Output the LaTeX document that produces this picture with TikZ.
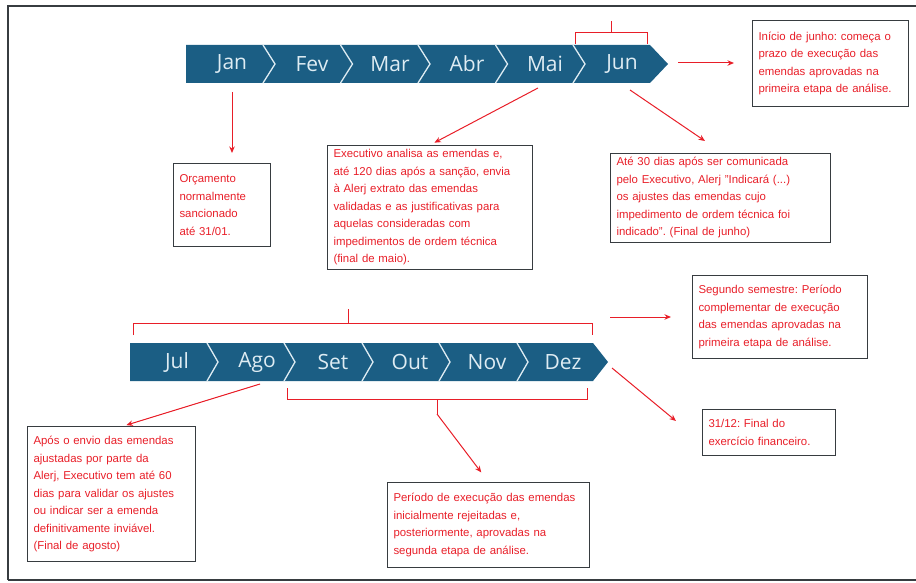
\documentclass[tikz,border=0pt]{standalone}
\usepackage{fontspec}
\setmainfont{Liberation Sans}
\newfontfamily\mesfont{Open Sans}
\usetikzlibrary{arrows.meta}
\frenchspacing
\definecolor{azul}{RGB}{27,94,132}
\definecolor{claro}{RGB}{222,236,243}
\definecolor{verm}{RGB}{232,30,40}
\definecolor{borda}{RGB}{55,60,64}
\tikzset{
  mes/.style={text=claro,font=\mesfont\fontsize{21}{21}\selectfont,inner sep=0pt},
  caixa/.style 2 args={draw=borda,line width=1pt,text=verm,align=left,anchor=north west,
    inner xsep=6pt,inner ysep=4pt,text width=#1-12pt,minimum height=#2,
    font=\fontsize{11.4}{17.5}\selectfont},
  seta/.style={draw=verm,line width=1pt,-{Stealth[length=6.5pt,width=5.5pt]}},
  chave/.style={draw=verm,line width=1pt},
  corte/.style={draw=claro,line width=1.3pt}
}
\begin{document}
\begin{tikzpicture}[x=1pt,y=-1pt]
\useasboundingbox (0,0) rectangle (916,583);
\draw[borda,line width=1.3pt] (8,580) -- (8,6) -- (918,6) (8,580) -- (918,580);
% primeiro semestre
\fill[azul] (186,45) -- (650,45) -- (668,64) -- (650,83) -- (186,83) -- cycle;
\draw[corte] (263,45) -- (275,64) -- (263,83);
\draw[corte] (340.5,45) -- (352.5,64) -- (340.5,83);
\draw[corte] (418,45) -- (430,64) -- (418,83);
\draw[corte] (495.5,45) -- (507.5,64) -- (495.5,83);
\draw[corte] (573,45) -- (585,64) -- (573,83);
\node[mes] (jan) at (232,64) {Jan};
\node[mes] (fev) at (312,64) {Fev};
\node[mes] (mar) at (390,64) {Mar};
\node[mes] (abr) at (467,64) {Abr};
\node[mes] (mai) at (545,64) {Mai};
\node[mes] (jun) at (622,64) {Jun};
% segundo semestre
\fill[azul] (130,343) -- (593,343) -- (608,362) -- (593,381) -- (130,381) -- cycle;
\draw[corte] (207,343) -- (218,362) -- (207,381);
\draw[corte] (284,343) -- (295,362) -- (284,381);
\draw[corte] (362,343) -- (373,362) -- (362,381);
\draw[corte] (439,343) -- (450,362) -- (439,381);
\draw[corte] (517,343) -- (528,362) -- (517,381);
\node[mes] (jul) at (177,362) {Jul};
\node[mes] (ago) at (257,362) {Ago};
\node[mes] (set) at (333,362) {Set};
\node[mes] (out) at (410,362) {Out};
\node[mes] (nov) at (487,362) {Nov};
\node[mes] (dez) at (563,362) {Dez};
% chaves
\draw[chave] (575,44) -- (575,33) -- (647,33) -- (647,44) (611,33) -- (611,21);
\draw[chave] (133,335) -- (133,323) -- (592,323) -- (592,335) (348,323) -- (348,309);
\draw[chave] (287,388) -- (287,399) -- (587,399) -- (587,388) (437,399) -- (437,414);
% caixas
\node[caixa={97pt}{83pt}] (orc) at (173,163) {Orçamento\\normalmente\\sancionado\\até 31/01.};
\node[caixa={205pt}{123pt}] (exec) at (327,145) {Executivo analisa as emendas e,\\até 120 dias após a sanção, envia\\à Alerj extrato das emendas\\validadas e as justificativas para\\aquelas consideradas com\\impedimentos de ordem técnica\\(final de maio).};
\node[caixa={220pt}{85pt}] (ate) at (610,153) {Até 30 dias após ser comunicada\\pelo Executivo, Alerj "Indicará (...)\\os ajustes das emendas cujo\\impedimento de ordem técnica foi\\indicado". (Final de junho)};
\node[caixa={156pt}{86pt}] (ini) at (752,20) {Início de junho: começa o\\prazo de execução das\\emendas aprovadas na\\primeira etapa de análise.};
\node[caixa={175pt}{83pt}] (seg) at (692,275) {Segundo semestre: Período\\complementar de execução\\das emendas aprovadas na\\primeira etapa de análise.};
\node[caixa={133pt}{46pt}] (fim) at (702,409) {31/12: Final do\\exercício financeiro.};
\node[caixa={168pt}{135pt}] (apos) at (27,426) {Após o envio das emendas\\ajustadas por parte da\\Alerj, Executivo tem até 60\\dias para validar os ajustes\\ou indicar ser a emenda\\definitivamente inviável.\\(Final de agosto)};
\node[caixa={202pt}{85pt}] (per) at (387,482) {Período de execução das emendas\\inicialmente rejeitadas e,\\posteriormente, aprovadas na\\segunda etapa de análise.};
% setas
\coordinate (pjan) at (232,92);
\coordinate (pmai) at (538,88);
\coordinate (pjun) at (630,90);
\coordinate (qjun) at (678,63);
\coordinate (pseg) at (610,317);
\coordinate (pdez) at (612,368);
\coordinate (pago) at (260,384);
\coordinate (pper) at (437,414);
\coordinate (fate) at (705,141);
\coordinate (ffim) at (676,421);
\draw[seta,shorten >=10pt] (pjan) -- (pjan |- orc.north);
\draw[seta,shorten >=5pt] (pmai) -- (exec.north);
\draw[seta] (pjun) -- (fate);
\draw[seta,shorten >=18pt] (qjun) -- (qjun -| ini.west);
\draw[seta,shorten >=21pt] (pseg) -- (pseg -| seg.west);
\draw[seta] (pdez) -- (ffim);
\draw[seta,shorten >=3pt] (pago) -- ([xshift=12pt]apos.north);
\draw[seta,shorten >=12pt] (pper) -- (per.north);
\end{tikzpicture}
\end{document}
